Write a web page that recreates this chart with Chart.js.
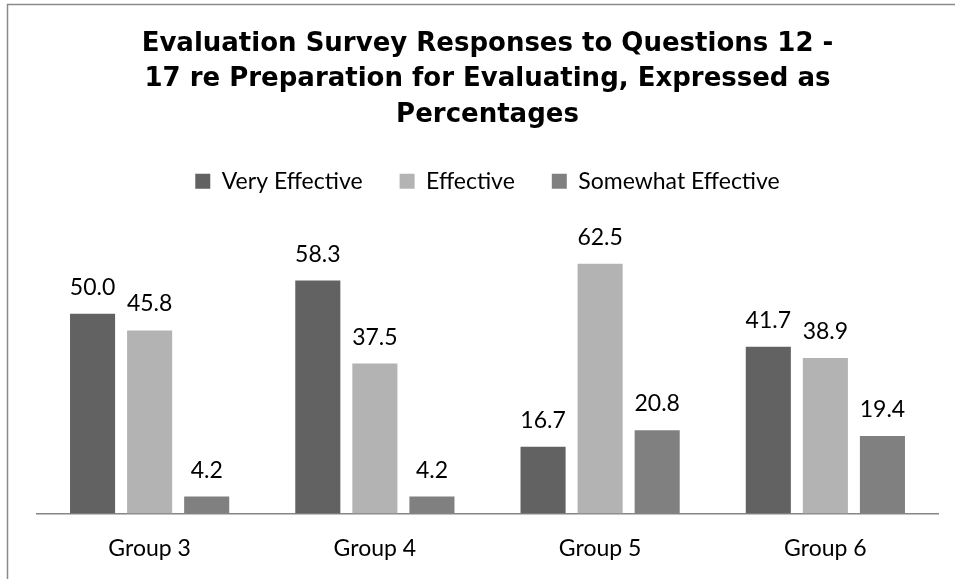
<!DOCTYPE html>
<html>
<head>
<meta charset="utf-8">
<script src="https://cdn.jsdelivr.net/npm/chart.js@4/dist/chart.umd.min.js"></script>
<style>
  html, body { margin: 0; padding: 0; background: #ffffff; }
  #wrap { width: 955px; height: 579px; position: relative; }
</style>
</head>
<body>
<div id="wrap"><canvas id="chart" width="955" height="579"></canvas></div>
<script>
// Survey groups and response shares (%)
const groups = ['Group 3', 'Group 4', 'Group 5', 'Group 6'];
const veryEffective = [50.0, 58.3, 16.7, 41.7];
const effective = [45.8, 37.5, 62.5, 38.9];
const somewhatEffective = [4.2, 4.2, 20.8, 19.4];
const seriesNames = ['Very Effective', 'Effective', 'Somewhat Effective'];
const titleLines = [
  'Evaluation Survey Responses to Questions 12 -',
  '17 re Preparation for Evaluating, Expressed as',
  'Percentages'
];

const LABEL_FONT = 'Lato, "Open Sans", sans-serif';

// Outer frame of the chart object (its right and bottom edges run off the page)
const framePlugin = {
  id: 'frame',
  beforeDraw(chart) {
    const ctx = chart.ctx;
    ctx.save();
    ctx.strokeStyle = '#8a8a8a';
    ctx.lineWidth = 1.5;
    ctx.strokeRect(7.5, 4.5, 1200, 1200);
    ctx.restore();
  }
};

// Value labels above every bar
const valueLabels = {
  id: 'valueLabels',
  afterDatasetsDraw(chart) {
    const ctx = chart.ctx;
    ctx.save();
    ctx.font = '23px ' + LABEL_FONT;
    ctx.fillStyle = '#000000';
    ctx.textAlign = 'center';
    ctx.textBaseline = 'alphabetic';
    chart.data.datasets.forEach((ds, di) => {
      const meta = chart.getDatasetMeta(di);
      meta.data.forEach((bar, i) => {
        ctx.fillText(ds.data[i].toFixed(1), bar.x, bar.y - 19);
      });
    });
    ctx.restore();
  }
};

new Chart(document.getElementById('chart'), {
  type: 'bar',
  data: {
    labels: groups,
    datasets: [
      { label: seriesNames[0], data: veryEffective, backgroundColor: '#626262', borderWidth: 0 },
      { label: seriesNames[1], data: effective, backgroundColor: '#b3b3b3', borderWidth: 0 },
      { label: seriesNames[2], data: somewhatEffective, backgroundColor: '#808080', borderWidth: 0 }
    ]
  },
  options: {
    responsive: false,
    animation: false,
    devicePixelRatio: 1,
    layout: { padding: { left: 37, right: 17, top: 0, bottom: -4 } },
    datasets: {
      bar: { categoryPercentage: 0.76, barPercentage: 0.79 }
    },
    scales: {
      x: {
        grid: { display: false, drawTicks: false },
        border: { display: true, color: '#868686', width: 1.5 },
        ticks: { color: '#000000', padding: 21, font: { family: LABEL_FONT, size: 23 } }
      },
      y: {
        display: false,
        min: 0,
        max: 77.75
      }
    },
    plugins: {
      title: {
        display: true,
        text: titleLines,
        color: '#000000',
        font: { family: '"DejaVu Sans", sans-serif', size: 26, weight: 'bold', lineHeight: 1.37 },
        padding: { top: 26, bottom: 0 }
      },
      legend: {
        display: true,
        position: 'top',
        labels: {
          color: '#000000',
          font: { family: LABEL_FONT, size: 23 },
          boxWidth: 15,
          boxHeight: 15,
          padding: 37
        }
      },
      tooltip: { enabled: false }
    }
  },
  plugins: [framePlugin, valueLabels]
});
</script>
</body>
</html>
